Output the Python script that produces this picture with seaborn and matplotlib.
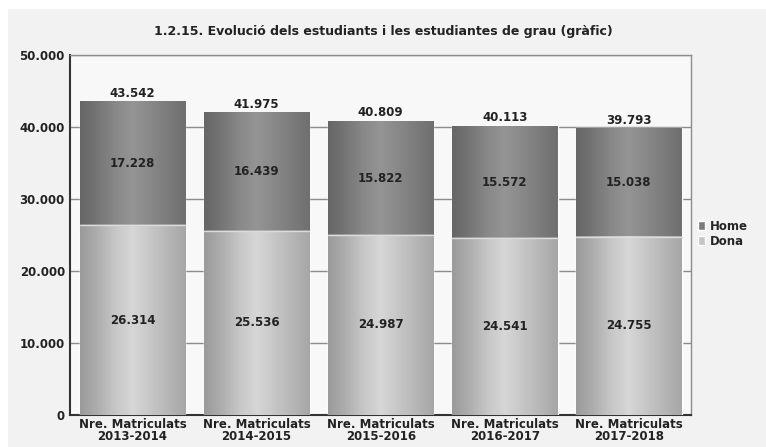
import numpy as np
import pandas as pd
import matplotlib
matplotlib.use("Agg")
import matplotlib.pyplot as plt
from matplotlib.colors import LinearSegmentedColormap
from matplotlib.patches import Patch, Rectangle
import seaborn as sns

# dades
cursos = ["Nre. Matriculats\n2013-2014", "Nre. Matriculats\n2014-2015",
          "Nre. Matriculats\n2015-2016", "Nre. Matriculats\n2016-2017",
          "Nre. Matriculats\n2017-2018"]
dona = [26314, 25536, 24987, 24541, 24755]
home = [17228, 16439, 15822, 15572, 15038]
total = [d + h for d, h in zip(dona, home)]

df = pd.DataFrame({"curs": cursos, "Dona": dona, "Home": home, "Total": total})

def fmt(v):
    return f"{int(v):,}".replace(",", ".")

sns.set_theme(style="white")
plt.rcParams["font.family"] = ["DejaVu Sans"]
plt.rcParams["font.weight"] = "bold"

fig = plt.figure(figsize=(7.66, 4.47), dpi=100, facecolor="#f2f2f2")
# marge blanc a dalt i a l'esquerra
fig.patches.append(Rectangle((0, 1 - 9 / 447), 1, 9 / 447, transform=fig.transFigure,
                             facecolor="white", edgecolor="none", zorder=0))
fig.patches.append(Rectangle((0, 0), 8 / 766, 1, transform=fig.transFigure,
                             facecolor="white", edgecolor="none", zorder=0))

ax = fig.add_axes([0.092, 0.072, 0.81, 0.805])
ax.set_facecolor("#f8f8f8")

sns.barplot(data=df, x="curs", y="Total", color="#8a8a8a", width=0.85, ax=ax, zorder=2)
n_home = len(ax.patches)
sns.barplot(data=df, x="curs", y="Dona", color="#c0c0c0", width=0.85, ax=ax, zorder=3)

# ombrejat horitzontal de les barres
prof = np.array([0.0, 0.25, 0.55, 0.75, 0.55, 0.35, 0.15])
xs = np.linspace(0, 1, 200)
grad = np.interp(xs, np.linspace(0, 1, len(prof)), prof)[None, :]
cm_home = LinearSegmentedColormap.from_list("h", ["#666666", "#a4a4a4"])
cm_dona = LinearSegmentedColormap.from_list("d", ["#9a9a9a", "#ebebeb"])
for i, p in enumerate(ax.patches):
    x0, w, y0, h = p.get_x(), p.get_width(), p.get_y(), p.get_height()
    cm = cm_home if i < n_home else cm_dona
    ax.imshow(grad, cmap=cm, aspect="auto", extent=(x0, x0 + w, y0, y0 + h),
              zorder=p.get_zorder() + 0.1, interpolation="bilinear", vmin=0, vmax=1)
    if i >= n_home:
        ax.plot([x0, x0 + w], [y0 + h, y0 + h], color="#dcdcdc", lw=1, zorder=5)

ax.set_xlim(-0.5, len(cursos) - 0.5)
ax.set_ylim(0, 50000)
ax.set_yticks(range(0, 50001, 10000))
ax.yaxis.grid(True, color="#8c8c8c", lw=1)
ax.set_axisbelow(True)
ax.set_yticklabels([fmt(v) for v in range(0, 50001, 10000)], fontsize=8.5,
                   fontweight="bold", color="#222222")
ax.set_xticks(range(len(cursos)))
ax.set_xticklabels(cursos, fontsize=8.5, fontweight="bold", color="#222222", linespacing=0.95)
ax.tick_params(axis="both", length=3, pad=1, colors="#222222")
ax.tick_params(axis="x", length=0, pad=2)
ax.set_xlabel("")
ax.set_ylabel("")

for s in ["left", "bottom"]:
    ax.spines[s].set_color("#333333")
    ax.spines[s].set_linewidth(1.5)
for s in ["top", "right"]:
    ax.spines[s].set_color("#8c8c8c")
    ax.spines[s].set_linewidth(1)

for i in range(len(cursos)):
    ax.text(i, dona[i] / 2, fmt(dona[i]), ha="center", va="center", fontsize=8.5,
            fontweight="bold", color="#222222", zorder=6)
    ax.text(i, dona[i] + home[i] / 2, fmt(home[i]), ha="center", va="center", fontsize=8.5,
            fontweight="bold", color="#222222", zorder=6)
    ax.text(i, total[i] + 250, fmt(total[i]), ha="center", va="bottom", fontsize=8.5,
            fontweight="bold", color="#222222", zorder=6)

fig.suptitle("1.2.15. Evolució dels estudiants i les estudiantes de grau (gràfic)",
             x=0.5, y=0.945, fontsize=9, fontweight="bold", color="#222222")

handles = [Patch(facecolor="#7a7a7a"), Patch(facecolor="#c4c4c4")]
fig.legend(handles, ["Home", "Dona"], loc="center left", bbox_to_anchor=(0.905, 0.477),
           frameon=False, fontsize=8.5, handlelength=0.6, handleheight=0.8,
           handletextpad=0.4, labelspacing=0.2, borderaxespad=0)

fig.savefig("out.png", dpi=100, facecolor=fig.get_facecolor())
